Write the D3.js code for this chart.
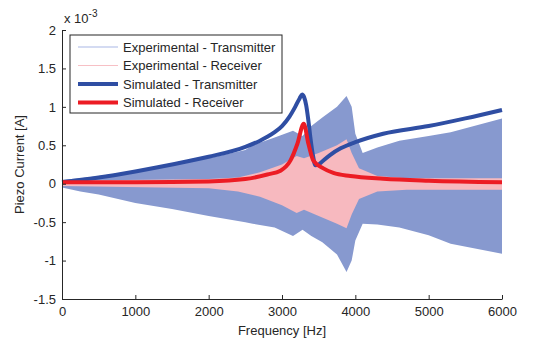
<!DOCTYPE html>
<html>
<head>
<meta charset="utf-8">
<script src="https://cdn.jsdelivr.net/npm/d3@7"></script>
<style>
  body { margin: 0; background: #fff; }
  text { font-family: Arial, "Liberation Sans", sans-serif; fill: #262626; }
</style>
</head>
<body>
<div id="chart"></div>
<script>
// values in units of 1e-3 A
var expTxFreq  = [0, 250, 500, 1000, 1500, 2000, 2500, 2600, 2900, 3150, 3280, 3400, 3550, 3750, 3880, 3950, 4000, 4100, 4300, 4600, 5000, 5300, 6000];
var expTxUpper = [0.05, 0.07, 0.10, 0.17, 0.25, 0.33, 0.44, 0.50, 0.60, 0.69, 0.62, 0.75, 0.86, 1.00, 1.14, 1.00, 0.65, 0.40, 0.47, 0.56, 0.62, 0.67, 0.85];
var expTxLower = [-0.05, -0.10, -0.14, -0.25, -0.33, -0.42, -0.50, -0.52, -0.57, -0.68, -0.60, -0.68, -0.76, -0.92, -1.15, -1.00, -0.74, -0.52, -0.53, -0.57, -0.67, -0.78, -0.91];

var expRxFreq  = [0, 2000, 2400, 2700, 3000, 3200, 3300, 3500, 3750, 3880, 3950, 4050, 4300, 4700, 6000];
var expRxUpper = [0.04, 0.06, 0.08, 0.15, 0.25, 0.36, 0.33, 0.40, 0.50, 0.58, 0.40, 0.20, 0.10, 0.07, 0.07];
var expRxLower = [-0.03, -0.06, -0.10, -0.17, -0.28, -0.38, -0.34, -0.42, -0.52, -0.58, -0.40, -0.20, -0.10, -0.08, -0.08];

var simTxFreq = [0, 500, 1000, 1500, 2000, 2500, 2700, 2800, 2900, 3000, 3100, 3180, 3240, 3274, 3300, 3330, 3360, 3390, 3420, 3455, 3500, 3560, 3650, 3800, 4000, 4380, 5000, 5500, 6000];
var simTxVal  = [0.02, 0.08, 0.16, 0.25, 0.35, 0.48, 0.56, 0.61, 0.67, 0.75, 0.87, 1.00, 1.11, 1.16, 1.13, 1.02, 0.82, 0.58, 0.38, 0.24, 0.25, 0.30, 0.37, 0.46, 0.54, 0.65, 0.75, 0.85, 0.96];

var simRxFreq = [0, 1000, 2000, 2500, 2800, 2980, 3114, 3210, 3296, 3360, 3428, 3564, 3700, 3932, 4380, 5000, 6000];
var simRxVal  = [0.02, 0.02, 0.03, 0.06, 0.12, 0.17, 0.30, 0.52, 0.78, 0.52, 0.30, 0.20, 0.14, 0.10, 0.065, 0.04, 0.02];

var xTicks = [0, 1000, 2000, 3000, 4000, 5000, 6000];
var yTicks = [-1.5, -1, -0.5, 0, 0.5, 1, 1.5, 2];
var legendLabels = ["Experimental - Transmitter", "Experimental - Receiver", "Simulated - Transmitter", "Simulated - Receiver"];

var W = 543, H = 341;
var margin = {left: 62, top: 30, right: 41, bottom: 42};
var w = W - margin.left - margin.right, h = H - margin.top - margin.bottom;

var svg = d3.select("#chart").append("svg").attr("width", W).attr("height", H);
var g = svg.append("g").attr("transform", "translate(" + margin.left + "," + margin.top + ")");

var x = d3.scaleLinear().domain([0, 6000]).range([0, w]);
var y = d3.scaleLinear().domain([-1.5, 2]).range([h, 0]);

function zipEnv(f, up, lo) {
  return f.map(function(d, i) { return {f: d, u: up[i], l: lo[i]}; });
}
function zip(f, v) {
  return f.map(function(d, i) { return {f: d, v: v[i]}; });
}

var area = d3.area().x(function(d) { return x(d.f); })
  .y0(function(d) { return y(d.l); }).y1(function(d) { return y(d.u); });
var line = d3.line().x(function(d) { return x(d.f); }).y(function(d) { return y(d.v); })
  .curve(d3.curveMonotoneX);

var colExpTx = "#8799cf", colExpRx = "#f7b9bf", colSimTx = "#2f4ea3", colSimRx = "#ec1c24";

g.append("path").datum(zipEnv(expTxFreq, expTxUpper, expTxLower))
  .attr("d", area).attr("fill", colExpTx);
g.append("path").datum(zipEnv(expRxFreq, expRxUpper, expRxLower))
  .attr("d", area).attr("fill", colExpRx);
g.append("path").datum(zip(simTxFreq, simTxVal))
  .attr("d", line).attr("fill", "none").attr("stroke", colSimTx).attr("stroke-width", 4);
g.append("path").datum(zip(simRxFreq, simRxVal))
  .attr("d", line).attr("fill", "none").attr("stroke", colSimRx).attr("stroke-width", 4);

// axes, ticks inward
var xAxis = g.append("g").attr("transform", "translate(0," + h + ")")
  .call(d3.axisBottom(x).tickValues(xTicks).tickSizeInner(-4).tickSizeOuter(0).tickPadding(8)
    .tickFormat(function(d) { return d; }));
var yAxis = g.append("g")
  .call(d3.axisLeft(y).tickValues(yTicks).tickSizeInner(-4).tickSizeOuter(0).tickPadding(6)
    .tickFormat(function(d) { return d; }));
[xAxis, yAxis].forEach(function(a) {
  a.selectAll("path, line").attr("stroke", "#262626");
  a.selectAll("text").style("font-size", "13px").style("font-family", "Arial, 'Liberation Sans', sans-serif").attr("fill", "#262626");
});

svg.append("text").attr("x", margin.left + w / 2).attr("y", 335)
  .attr("text-anchor", "middle").style("font-size", "13px").text("Frequency [Hz]");
svg.append("text").attr("transform", "translate(24," + (margin.top + h / 2) + ") rotate(-90)")
  .attr("text-anchor", "middle").style("font-size", "13px").text("Piezo Current [A]");

var ex = svg.append("text").attr("x", 64).attr("y", 23).style("font-size", "13px");
ex.append("tspan").text("x 10");
ex.append("tspan").attr("dy", -6).style("font-size", "10px").text("-3");

// legend
var leg = svg.append("g").attr("transform", "translate(70,35)");
leg.append("rect").attr("width", 212).attr("height", 78).attr("fill", "#fff").attr("stroke", "#262626");
var legW = [1.2, 1.2, 4, 4];
var legColsLine = ["#a9b8e6", "#f7c0c5", colSimTx, colSimRx];
legendLabels.forEach(function(t, i) {
  var yy = 12 + i * 18.5;
  leg.append("line").attr("x1", 8).attr("x2", 48).attr("y1", yy).attr("y2", yy)
    .attr("stroke", legColsLine[i]).attr("stroke-width", legW[i]);
  leg.append("text").attr("x", 53).attr("y", yy + 4.5).style("font-size", "13px").text(t);
});
</script>
</body>
</html>
